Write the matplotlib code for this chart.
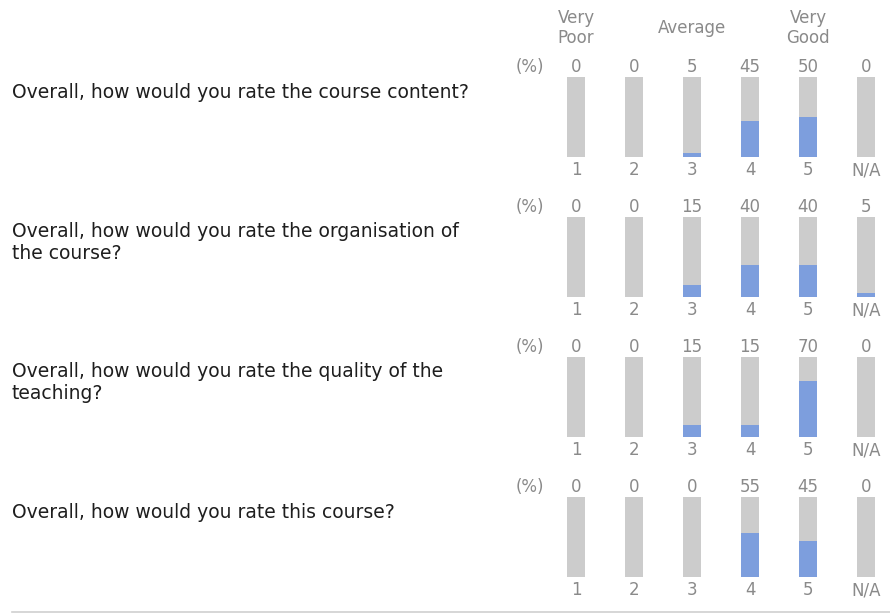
import matplotlib
matplotlib.use("Agg")
import matplotlib.pyplot as plt

questions = [
    "Overall, how would you rate the course content?",
    "Overall, how would you rate the organisation of\nthe course?",
    "Overall, how would you rate the quality of the\nteaching?",
    "Overall, how would you rate this course?",
]
categories = ["1", "2", "3", "4", "5", "N/A"]
values = [
    [0, 0, 5, 45, 50, 0],
    [0, 0, 15, 40, 40, 5],
    [0, 0, 15, 15, 70, 0],
    [0, 0, 0, 55, 45, 0],
]
header_labels = ["Very\nPoor", "Average", "Very\nGood"]
header_positions = [0, 2, 4]

W, H = 890, 613
plt.rcParams["font.family"] = ["DejaVu Sans"]
fig = plt.figure(figsize=(W / 100, H / 100), dpi=100)
fig.patch.set_facecolor("white")

GRAY_BAR = "#cccccc"
BLUE = "#7d9edd"
LABEL = "#8a8a8a"
QTEXT = "#1e1e1e"
LFS = 12
QFS = 13.5

# geometry in pixels
first_center = 576
spacing = 58
bar_w_px = 18
x_lo, x_hi = -0.25, 5.25
row_tops = [77, 217, 357, 497]
bar_h = 80

def px_to_fig(x, y):
    return x / W, 1 - y / H

ax_left = first_center + x_lo * spacing
ax_right = first_center + x_hi * spacing
xpos = list(range(len(categories)))

for r, (q, vals) in enumerate(zip(questions, values)):
    top = row_tops[r]
    bottom = top + bar_h
    l, b = px_to_fig(ax_left, bottom)
    ax = fig.add_axes([l, b, (ax_right - ax_left) / W, bar_h / H])
    ax.set_xlim(x_lo, x_hi)
    ax.set_ylim(0, 100)
    width = bar_w_px / spacing
    ax.bar(xpos, [100] * len(xpos), width=width, color=GRAY_BAR, edgecolor="none")
    ax.bar(xpos, vals, width=width, color=BLUE, edgecolor="none")
    for s in ax.spines.values():
        s.set_visible(False)
    ax.set_yticks([])
    ax.set_xticks(xpos)
    ax.set_xticklabels(categories, color=LABEL, fontsize=LFS)
    ax.tick_params(axis="x", length=0, pad=3)
    for x, v in zip(xpos, vals):
        ax.annotate(str(v), (x, 100), xytext=(0, 10), textcoords="offset pixels",
                    ha="center", va="center", color=LABEL, fontsize=LFS,
                    annotation_clip=False)
    ax.annotate("(%)", (-0.79, 100), xytext=(0, 10), textcoords="offset pixels",
                ha="center", va="center", color=LABEL, fontsize=LFS,
                annotation_clip=False)
    if "\n" in q:
        fx, fy = px_to_fig(12, top + 5)
        fig.text(fx, fy, q, ha="left", va="top", color=QTEXT, fontsize=QFS,
                 linespacing=1.2)
    else:
        fx, fy = px_to_fig(12, top + 15)
        fig.text(fx, fy, q, ha="left", va="center", color=QTEXT, fontsize=QFS)
    if r == 0:
        for lab, hp in zip(header_labels, header_positions):
            ax.annotate(lab, (hp, 100), xytext=(0, 49), textcoords="offset pixels",
                        ha="center", va="center", color=LABEL, fontsize=LFS,
                        linespacing=1.15, annotation_clip=False)

# bottom separator line
line_ax = fig.add_axes([0, 0, 1, 1], zorder=-1)
line_ax.set_xlim(0, W)
line_ax.set_ylim(H, 0)
line_ax.axis("off")
line_ax.plot([12, W], [611.5, 611.5], color="#d0d0d0", lw=1.2)

fig.savefig("out.png", dpi=100)
